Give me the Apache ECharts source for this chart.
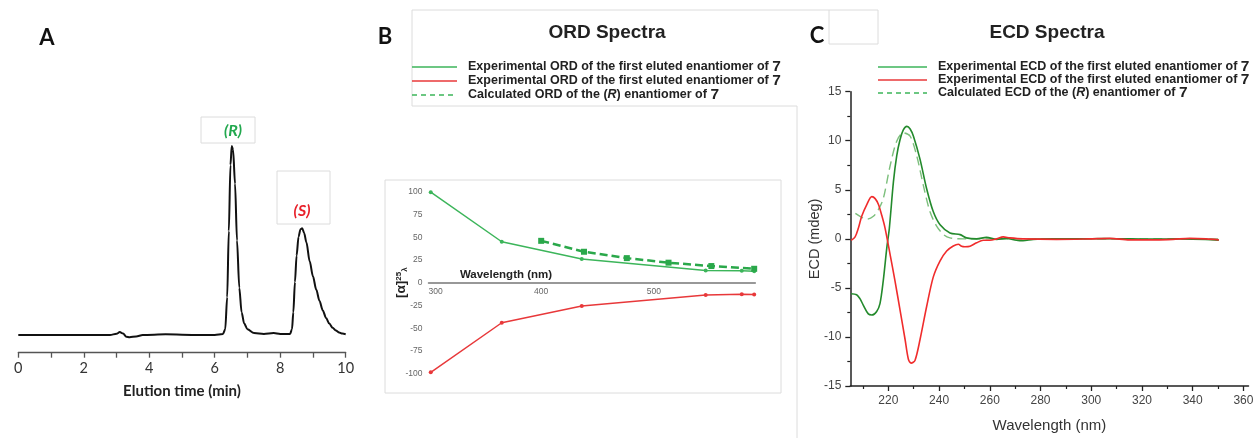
<!DOCTYPE html>
<html>
<head>
<meta charset="utf-8">
<script src="https://cdn.jsdelivr.net/npm/echarts@6/dist/echarts.min.js"></script>
<style>
html,body{margin:0;padding:0;background:#fff}
#main{width:1258px;height:438px}
</style>
</head>
<body>
<div id="main"></div>
<script>
// A - chiral HPLC trace
var hplcTime = [0,1,2,2.5,2.8,3.0,3.1,3.2,3.3,3.4,3.6,3.8,4.5,5.5,6.0,6.25,6.32,6.38,6.43,6.48,6.52,6.56,6.62,6.68,6.75,6.82,6.9,7.0,7.2,7.5,7.8,8.0,8.3,8.36,8.4,8.45,8.5,8.56,8.62,8.67,8.73,8.8,8.9,9.0,9.1,9.2,9.3,9.4,9.5,9.6,9.7,9.8,9.9,10];
var hplcSignal = [0,0,0,0,0,0.6,1.5,0.8,-1,-1.2,-0.8,0,0.3,0,0,0.5,3,20,55,90,100,98,80,50,25,12,6,3,1,0.5,1,0.5,0.5,3,12,28,42,52,56,56.5,54,49,39,31,24,18,13,9,6,3.8,2.3,1.3,0.7,0.4];
var hplcTicks = [0,2,4,6,8,10];

// B - ORD
var ordWavelength = [302,365,436,546,578,589];
var ordFirst = [99.5,45,26,13.5,13,12.5];
var ordSecond = [-98.5,-44,-25.5,-13.5,-12.8,-13];
var calcWavelength = [400,438,476,513,551,589];
var ordCalc = [46,34,27,22,18.3,15.3];
var ordTicks = [300,400,500];

// C - ECD
var ecdWlFirst = [205.3,207.5,208.8,210.1,212.1,213.5,215.4,216.7,218,219.4,220.4,222,223.3,224.6,225.9,227.3,228.6,229.9,232.5,235.1,237.7,240.4,244.3,248.3,250.8,254.8,258.7,262.7,266.6,270.5,273.1,277.1,285,295,305,315,325,335,345,350.3];
var ecdFirst = [-5.6,-5.7,-6.1,-6.75,-7.65,-7.76,-7.4,-6.6,-4.25,-0.9,1.1,5.8,8.45,10.1,11.1,11.47,11.2,10.46,8.1,5.1,2.78,1.43,0.6,0.43,0.1,0,0.15,-0.05,0.05,-0.15,-0.2,-0.05,0,0,0.02,0,-0.02,0,-0.05,-0.15];
var ecdWlSecond = [205.3,206.9,208.2,209.5,211.5,213.5,214.8,216.1,217.4,218.7,220.7,222.6,224.6,226.6,227.9,229,230.5,232.5,235.1,237.7,240.4,243,245.6,247.6,248.9,250.2,252.2,254.8,257.4,260,262.7,265.3,267.9,273.1,286.3,299.4,307.3,315.1,325.6,332.2,338.8,345.3,350.3];
var ecdSecond = [-0.15,0.2,1.1,2.3,3.5,4.3,4.1,3.5,2.4,1.1,-1.6,-4.25,-7.25,-10.26,-12.27,-12.67,-12.4,-10.26,-6.9,-3.9,-2.24,-1.24,-0.73,-0.55,-0.75,-0.8,-0.75,-0.4,-0.15,-0.15,0,0.2,0.1,0,-0.05,0,0.05,-0.1,-0.1,-0.05,0.05,0,-0.1];
var ecdWlCalc = [207,209.5,211.5,214.1,216.1,218,220.7,223.3,225.9,228.6,231.2,233.8,236.4,239.1,241.8,244.3,250,260,280,300,320,340,350];
var ecdCalc = [2.6,2.2,2.0,2.3,3.0,4.1,7.45,9.96,10.8,10.46,8.45,5.45,2.78,1.27,0.43,0.1,0,0,0,0,0,0,0];
var ecdTicks = [220,240,260,280,300,320,340,360];
var ecdMinorTicks = [210,230,250,270,290,310,330,350];

function pairs(xs, ys) {
	var out = [];
	for (var i = 0; i < xs.length; i++) out.push([xs[i], ys[i]]);
	return out;
}

var ARIAL = '"Liberation Sans", Arial, sans-serif';
var CALIBRI = 'Lato, "Open Sans", sans-serif';
var boxGrey = '#dcdcdc';

function legendText(x, y, txt) {
	return {
		type: 'text', x: x, y: y,
		style: {
			text: txt,
			textVerticalAlign: 'middle', verticalAlign: 'middle',
			rich: {
				b: {fontFamily: ARIAL, fontWeight: 'bold', fontSize: 12.5, fill: '#222'},
				i: {fontFamily: ARIAL, fontWeight: 'bold', fontStyle: 'italic', fontSize: 12.5, fill: '#222'},
				n: {fontFamily: ARIAL, fontWeight: 'bold', fontSize: 15.5, fill: '#222'}
			}
		}
	};
}
function hline(x1, y1, x2, y2, color, w, dash) {
	return {type: 'line', shape: {x1: x1, y1: y1, x2: x2, y2: y2},
		style: {stroke: color, lineWidth: w || 1, lineDash: dash || null}};
}
function label(x, y, txt, font, color) {
	return {type: 'text', x: x, y: y, style: {text: txt, fill: color, font: font,
		textAlign: 'center', align: 'center', textVerticalAlign: 'middle', verticalAlign: 'middle'}};
}

var chart = echarts.init(document.getElementById('main'));
var option = {
	animation: false,
	backgroundColor: '#fff',
	grid: [
		{left: 18.3, top: 146, width: 327.4, height: 206.7},
		{left: 428.5, top: 191.7, width: 326.8, height: 182},
		{left: 850.3, top: 91.7, width: 398.2, height: 299}
	],
	xAxis: [{
		gridIndex: 0, type: 'value', min: 0, max: 10, interval: 1,
		axisLine: {onZero: false, lineStyle: {color: '#555', width: 1.3}},
		axisTick: {length: 5, lineStyle: {color: '#555', width: 1.3}},
		axisLabel: {
			margin: 8, fontSize: 14.5, color: '#333', fontFamily: CALIBRI,
			formatter: function(v) { return hplcTicks.indexOf(v) >= 0 ? String(v) : ''; }
		},
		splitLine: {show: false},
		name: 'Elution time (min)', nameLocation: 'middle', nameGap: 31,
		nameTextStyle: {fontFamily: CALIBRI, fontWeight: 'bold', fontSize: 15, color: '#222'}
	}, {
		// sits on the zero line of the ORD plot
		gridIndex: 1, type: 'value', min: 300, max: 590, offset: -91,
		axisLine: {onZero: false, lineStyle: {color: '#777', width: 1.5}},
		axisTick: {show: false},
		axisLabel: {customValues: ordTicks, alignMinLabel: 'left', margin: 4, fontSize: 8.5, color: '#666', fontFamily: ARIAL},
		splitLine: {show: false}
	}, {
		gridIndex: 2, type: 'value', min: 205, max: 362, position: 'bottom',
		axisLine: {onZero: false, lineStyle: {color: '#222', width: 1.5}},
		axisTick: {customValues: ecdTicks, length: 5, lineStyle: {color: '#222', width: 1.3}},
		axisLabel: {customValues: ecdTicks, margin: 9, fontSize: 12, color: '#444', fontFamily: ARIAL},
		splitLine: {show: false},
		name: 'Wavelength (nm)', nameLocation: 'middle', nameGap: 32,
		nameTextStyle: {fontFamily: ARIAL, fontSize: 15, color: '#333'}
	}, {
		// minor ticks of the ECD wavelength axis
		gridIndex: 2, type: 'value', min: 205, max: 362, position: 'bottom',
		axisLine: {show: false, onZero: false},
		axisTick: {customValues: ecdMinorTicks, length: 3, lineStyle: {color: '#222', width: 1.2}},
		axisLabel: {show: false},
		splitLine: {show: false}
	}],
	yAxis: [{
		gridIndex: 0, type: 'value', min: -9.4, max: 100, show: false
	}, {
		gridIndex: 1, type: 'value', min: -100, max: 100, interval: 25,
		axisLine: {show: false}, axisTick: {show: false},
		axisLabel: {margin: 6, fontSize: 8.5, color: '#666', fontFamily: ARIAL},
		splitLine: {show: false},
		name: '{a|[α]}{s|25}{l|λ}', nameLocation: 'middle', nameRotate: 90, nameGap: 20,
		nameMoveOverlap: false,
		nameTextStyle: {
			rich: {
				a: {fontFamily: ARIAL, fontWeight: 'bold', fontSize: 13.5, color: '#222'},
				s: {fontFamily: ARIAL, fontWeight: 'bold', fontSize: 8, color: '#222', verticalAlign: 'top', padding: [0, 0, 6, 0]},
				l: {fontFamily: ARIAL, fontWeight: 'bold', fontSize: 8, color: '#222', verticalAlign: 'bottom', padding: [6, 0, 0, 0]}
			}
		}
	}, {
		gridIndex: 2, type: 'value', min: -15, max: 15, interval: 5,
		axisLine: {onZero: false, lineStyle: {color: '#222', width: 1.5}},
		axisTick: {length: 5, lineStyle: {color: '#222', width: 1.3}},
		minorTick: {show: true, splitNumber: 2, length: 3, lineStyle: {color: '#222', width: 1.2}},
		axisLabel: {margin: 9, fontSize: 12, color: '#444', fontFamily: ARIAL},
		splitLine: {show: false},
		name: 'ECD (mdeg)', nameLocation: 'middle', nameGap: 28, nameMoveOverlap: false,
		nameTextStyle: {fontFamily: ARIAL, fontSize: 14.5, color: '#333'}
	}],
	series: [{
		type: 'line', xAxisIndex: 0, yAxisIndex: 0, data: pairs(hplcTime, hplcSignal),
		showSymbol: false, smooth: 0.3, smoothMonotone: 'x', clip: false,
		lineStyle: {color: '#111', width: 2}
	}, {
		type: 'line', xAxisIndex: 1, yAxisIndex: 1, data: pairs(ordWavelength, ordFirst),
		symbol: 'circle', symbolSize: 4, clip: false,
		itemStyle: {color: '#3cb55a'}, lineStyle: {color: '#3cb55a', width: 1.5}
	}, {
		type: 'line', xAxisIndex: 1, yAxisIndex: 1, data: pairs(ordWavelength, ordSecond),
		symbol: 'circle', symbolSize: 4, clip: false,
		itemStyle: {color: '#e8383a'}, lineStyle: {color: '#e8383a', width: 1.5}
	}, {
		type: 'line', xAxisIndex: 1, yAxisIndex: 1, data: pairs(calcWavelength, ordCalc),
		symbol: 'rect', symbolSize: 6, clip: false,
		itemStyle: {color: '#2aa84a'}, lineStyle: {color: '#2aa84a', width: 2.5, type: [8, 4]}
	}, {
		type: 'line', xAxisIndex: 2, yAxisIndex: 2, data: pairs(ecdWlCalc, ecdCalc),
		showSymbol: false, smooth: 0.3, clip: false,
		lineStyle: {color: '#7cbf7c', width: 1.4, type: [9, 5]}
	}, {
		type: 'line', xAxisIndex: 2, yAxisIndex: 2, data: pairs(ecdWlFirst, ecdFirst),
		showSymbol: false, smooth: 0.3, clip: false,
		lineStyle: {color: '#238a2c', width: 1.6}
	}, {
		type: 'line', xAxisIndex: 2, yAxisIndex: 2, data: pairs(ecdWlSecond, ecdSecond),
		showSymbol: false, smooth: 0.3, clip: false,
		lineStyle: {color: '#f02c2c', width: 1.6}
	}],
	graphic: [
		// frames left over from the pasted figure
		{type: 'rect', shape: {x: 385, y: 180, width: 396, height: 213}, style: {fill: 'none', stroke: boxGrey, lineWidth: 1}},
		hline(412, 10, 878, 10, boxGrey), hline(412, 10, 412, 106, boxGrey), hline(412, 106, 797, 106, boxGrey),
		hline(829, 10, 829, 44, boxGrey), hline(829, 44, 878, 44, boxGrey), hline(878, 10, 878, 44, boxGrey),
		hline(797, 106, 797, 438, boxGrey),
		{type: 'rect', shape: {x: 201, y: 117, width: 54, height: 26}, style: {fill: '#fff', stroke: boxGrey, lineWidth: 1}},
		{type: 'rect', shape: {x: 277, y: 171, width: 53, height: 53}, style: {fill: '#fff', stroke: boxGrey, lineWidth: 1}},
		label(233, 131, '(R)', 'italic bold 16px ' + CALIBRI, '#22a84e'),
		label(302, 211, '(S)', 'italic bold 16px ' + CALIBRI, '#e8202a'),
		// panel letters
		label(47, 38, 'A', 'bold 22px ' + CALIBRI, '#111'),
		label(385, 37, 'B', 'bold 22px ' + CALIBRI, '#111'),
		label(817, 36, 'C', 'bold 22px ' + CALIBRI, '#111'),
		// titles
		label(607, 33, 'ORD Spectra', 'bold 19px ' + ARIAL, '#222'),
		label(1047, 33, 'ECD Spectra', 'bold 19px ' + ARIAL, '#222'),
		label(506, 275, 'Wavelength (nm)', 'bold 11.5px ' + ARIAL, '#222'),
		// ORD legend
		hline(412, 67, 457, 67, '#3cb55a', 1.5),
		hline(412, 81, 457, 81, '#e8383a', 1.5),
		hline(412, 95, 457, 95, '#3cb55a', 1.5, [5, 4]),
		legendText(468, 67, '{b|Experimental ORD of the first eluted enantiomer of }{n|7}'),
		legendText(468, 81, '{b|Experimental ORD of the first eluted enantiomer of }{n|7}'),
		legendText(468, 95, '{b|Calculated ORD of the (}{i|R}{b|) enantiomer of }{n|7}'),
		// ECD legend
		hline(878, 67, 927, 67, '#3cb55a', 1.5),
		hline(878, 80, 927, 80, '#e8383a', 1.5),
		hline(878, 93, 927, 93, '#3cb55a', 1.5, [5, 4]),
		legendText(938, 67, '{b|Experimental ECD of the first eluted enantiomer of }{n|7}'),
		legendText(938, 80, '{b|Experimental ECD of the first eluted enantiomer of }{n|7}'),
		legendText(938, 93, '{b|Calculated ECD of the (}{i|R}{b|) enantiomer of }{n|7}')
	]
};
chart.setOption(option);
</script>
</body>
</html>
